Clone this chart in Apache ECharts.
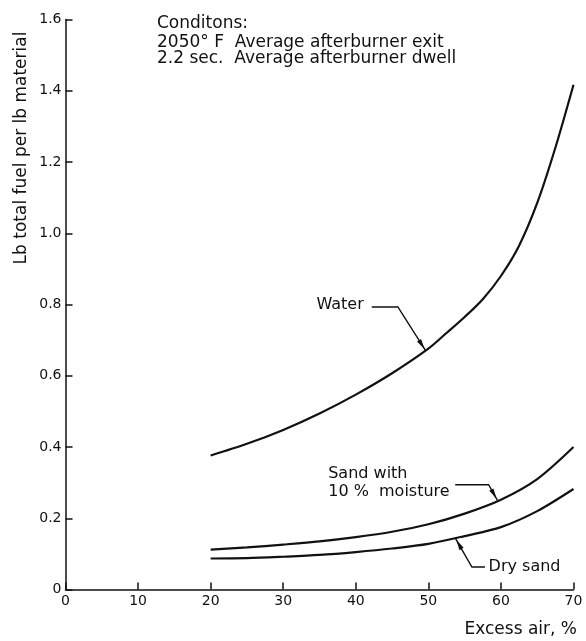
<!DOCTYPE html>
<html>
<head>
<meta charset="utf-8">
<script src="https://cdn.jsdelivr.net/npm/echarts@6/dist/echarts.min.js"></script>
<style>
  html, body { margin: 0; padding: 0; background: #fff; }
  #chart { width: 586px; height: 641px; }
</style>
</head>
<body>
<div id="chart"></div>
<script>
/* ================================
   DATA
================================ */
const waterX = [20, 25, 30, 35, 40, 45, 50, 52.5, 55, 57.5, 60, 62.5, 65, 67.5, 70];
const waterY = [0.376, 0.409, 0.448, 0.494, 0.547, 0.607, 0.676, 0.72, 0.765, 0.815, 0.88, 0.965, 1.085, 1.24, 1.417];

const moistX = [20, 25, 30, 35, 40, 45, 50, 55, 60, 65, 70];
const moistY = [0.112, 0.118, 0.126, 0.135, 0.147, 0.162, 0.183, 0.213, 0.252, 0.31, 0.40];

const dryX = [20, 25, 30, 35, 40, 45, 50, 55, 60, 65, 70];
const dryY = [0.087, 0.088, 0.092, 0.097, 0.105, 0.115, 0.128, 0.15, 0.175, 0.22, 0.282];

const xTicks = [0, 10, 20, 30, 40, 50, 60, 70];
const yTicks = [0, 0.2, 0.4, 0.6, 0.8, 1.0, 1.2, 1.4, 1.6];

const conditions = [
  "Conditons:",
  "2050\u00b0 F  Average afterburner exit",
  "2.2 sec.  Average afterburner dwell"
];

// leader lines in data coords: text end -> elbow -> arrow tip on curve
const waterLeader = [[42.2, 0.793], [45.8, 0.793], [49.6, 0.671]];
const moistLeader = [[53.7, 0.294], [58.3, 0.294], [59.5, 0.251]];
const dryLeader   = [[57.8, 0.063], [56.0, 0.063], [53.75, 0.143]];

const FONT = "DejaVu Sans";
const INK = "#111";

const pairs = (xs, ys) => xs.map((x, i) => [x, ys[i]]);

/* ================================
   CHART
================================ */
const chart = echarts.init(document.getElementById("chart"));

const axisCommon = {
  axisLine: { show: true, lineStyle: { color: INK, width: 1.5 } },
  axisTick: { show: true, inside: true, length: 7, lineStyle: { color: INK, width: 1.5 } },
  splitLine: { show: false },
  axisLabel: { color: INK, fontFamily: FONT, fontSize: 14 }
};

const lineSeries = (name, data) => ({
  name: name,
  type: "line",
  data: data,
  smooth: 0.3,
  symbol: "none",
  lineStyle: { color: INK, width: 2.2 },
  silent: true,
  animation: false
});

chart.setOption({
  animation: false,
  backgroundColor: "#fff",
  grid: { left: 65.5, right: 12.5, top: 19.5, bottom: 51.5 },
  xAxis: Object.assign({}, axisCommon, {
    type: "value",
    min: xTicks[0],
    max: xTicks[xTicks.length - 1],
    interval: 10,
    axisLabel: Object.assign({}, axisCommon.axisLabel, { margin: 5 })
  }),
  yAxis: Object.assign({}, axisCommon, {
    type: "value",
    min: yTicks[0],
    max: yTicks[yTicks.length - 1],
    interval: 0.2,
    axisLabel: Object.assign({}, axisCommon.axisLabel, {
      margin: 4,
      formatter: v => (v === 0 ? "0" : v.toFixed(1))
    })
  }),
  series: [
    lineSeries("Water", pairs(waterX, waterY)),
    lineSeries("Sand with 10% moisture", pairs(moistX, moistY)),
    lineSeries("Dry sand", pairs(dryX, dryY))
  ]
});

/* ================================
   ANNOTATIONS
================================ */
function px(p) {
  return chart.convertToPixel({ gridIndex: 0 }, p);
}

function leader(points) {
  const pts = points.map(px);
  const tip = pts[pts.length - 1];
  const from = pts[pts.length - 2];
  const dx = tip[0] - from[0], dy = tip[1] - from[1];
  const len = Math.hypot(dx, dy);
  const ux = dx / len, uy = dy / len;
  const back = 12, half = 2.4;
  const bx = tip[0] - ux * back, by = tip[1] - uy * back;
  return [
    {
      type: "polyline",
      shape: { points: pts },
      style: { stroke: INK, lineWidth: 1.4, fill: null }
    },
    {
      type: "polygon",
      shape: {
        points: [
          [tip[0] - ux * 1.5, tip[1] - uy * 1.5],
          [bx - uy * half, by + ux * half],
          [bx + uy * half, by - ux * half]
        ]
      },
      style: { fill: INK }
    }
  ];
}

function label(text, p, align) {
  const q = px(p);
  return {
    type: "text",
    x: q[0], y: q[1],
    style: {
      text: text, fill: INK, font: "16px " + FONT,
      align: align, verticalAlign: "middle", lineHeight: 18.5
    }
  };
}

const elems = [];
elems.push(...leader(waterLeader), ...leader(moistLeader), ...leader(dryLeader));
elems.push(label("Water", [41.1, 0.799], "right"));
elems.push(label("Sand with\n10 %  moisture", [36.2, 0.2995], "left"));
elems.push(label("Dry sand", [58.3, 0.063], "left"));

const condY = [24, 42.7, 58.3];
conditions.forEach((t, i) => {
  elems.push({
    type: "text", x: 157, y: condY[i],
    style: { text: t, fill: INK, font: "17px " + FONT, verticalAlign: "middle" }
  });
});

// y axis title
elems.push({
  type: "text",
  x: 22, y: 148, rotation: Math.PI / 2,
  style: {
    text: "Lb total fuel per lb material", fill: INK, font: "17px " + FONT,
    align: "center", verticalAlign: "middle"
  }
});

// x axis title
elems.push({
  type: "text",
  x: 577, y: 630,
  style: {
    text: "Excess air, %", fill: INK, font: "17px " + FONT,
    align: "right", verticalAlign: "middle"
  }
});

chart.setOption({ graphic: { elements: elems } });
</script>
</body>
</html>
